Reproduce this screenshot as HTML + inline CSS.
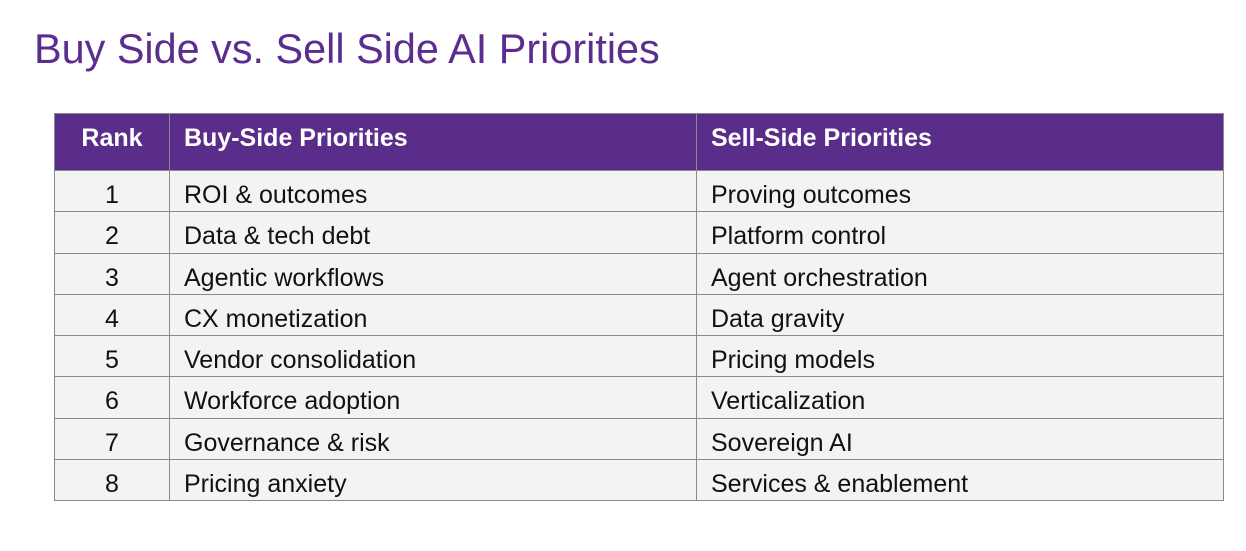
<!DOCTYPE html>
<html><head><meta charset="utf-8"><style>
body{margin:0;width:1246px;height:551px;background:#fff;font-family:"Liberation Sans",Arial,sans-serif;position:relative;overflow:hidden}
h1{position:absolute;left:34px;top:25px;margin:0;font-weight:normal;font-size:41.4px;color:#5b2d8e;line-height:48px;white-space:nowrap}
table{position:absolute;left:54px;top:113px;border-collapse:collapse;width:1169px;font-size:25px;color:#111;table-layout:fixed}
td,th{border:1px solid #8a8a8a;padding:0 0 0 14px;text-align:left;white-space:nowrap}
th{background:#5b2d8a;color:#fff;font-weight:bold;height:57px;vertical-align:top;padding-top:10px;box-sizing:border-box;line-height:28px}
td{background:#f3f3f3;height:41.25px;box-sizing:border-box;line-height:26px;padding-top:11px;vertical-align:top}
.c{text-align:center;padding-left:0}
</style></head><body>
<h1>Buy Side vs. Sell Side AI Priorities</h1>
<table>
<colgroup><col style="width:115px"><col style="width:527px"><col style="width:527px"></colgroup>
<tr><th class="c">Rank</th><th>Buy-Side Priorities</th><th>Sell-Side Priorities</th></tr>
<tr><td class="c">1</td><td>ROI &amp; outcomes</td><td>Proving outcomes</td></tr>
<tr><td class="c">2</td><td>Data &amp; tech debt</td><td>Platform control</td></tr>
<tr><td class="c">3</td><td>Agentic workflows</td><td>Agent orchestration</td></tr>
<tr><td class="c">4</td><td>CX monetization</td><td>Data gravity</td></tr>
<tr><td class="c">5</td><td>Vendor consolidation</td><td>Pricing models</td></tr>
<tr><td class="c">6</td><td>Workforce adoption</td><td>Verticalization</td></tr>
<tr><td class="c">7</td><td>Governance &amp; risk</td><td>Sovereign AI</td></tr>
<tr><td class="c">8</td><td>Pricing anxiety</td><td>Services &amp; enablement</td></tr>
</table>
</body></html>
